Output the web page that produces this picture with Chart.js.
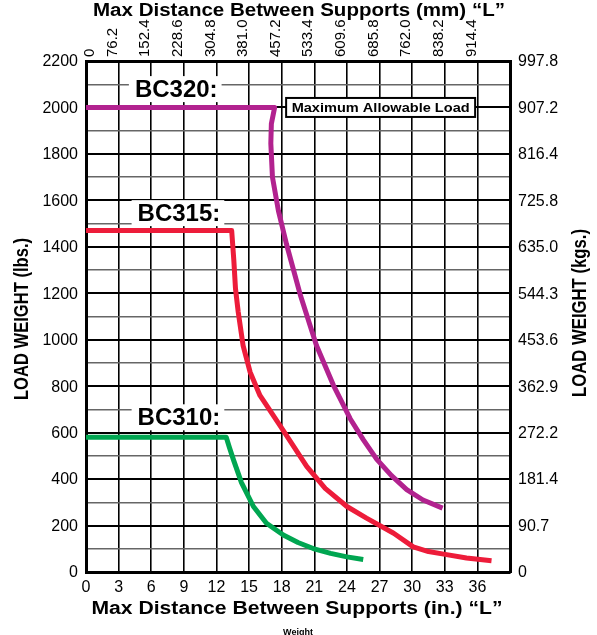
<!DOCTYPE html>
<html>
<head>
<meta charset="utf-8">
<script src="https://cdn.jsdelivr.net/npm/chart.js@4/dist/chart.umd.min.js"></script>
<style>
  html, body { margin: 0; padding: 0; background: #fff; }
  #wrap { width: 597px; height: 635px; position: relative; }
</style>
</head>
<body>
<div id="wrap"><canvas id="chart"></canvas></div>
<script>
// Ejes
const inchTicks = [0, 3, 6, 9, 12, 15, 18, 21, 24, 27, 30, 33, 36];
const mmLabels = ['0', '76.2', '152.4', '228.6', '304.8', '381.0', '457.2', '533.4', '609.6', '685.8', '762.0', '838.2', '914.4'];
const lbsTicks = [0, 200, 400, 600, 800, 1000, 1200, 1400, 1600, 1800, 2000, 2200];
const kgLabels = ['0', '90.7', '181.4', '272.2', '362.9', '453.6', '544.3', '635.0', '725.8', '816.4', '907.2', '997.8'];

// Series (pulgadas / libras)
const bc320X = [0, 17.35, 17.05, 17.0, 17.15, 17.7, 18.45, 19.7, 21.2, 22.75, 24.3, 25.5, 26.75, 28.1, 29.5, 31.0, 32.8];
const bc320Y = [2000, 2000, 1930, 1845, 1700, 1555, 1410, 1195, 975, 805, 660, 570, 485, 415, 355, 310, 275];
const bc315X = [0, 13.4, 13.6, 13.75, 14.0, 14.45, 15.1, 16.0, 17.85, 20.3, 22.0, 24.0, 25.8, 28.3, 30.1, 31.5, 32.9, 35.0, 37.3];
const bc315Y = [1470, 1470, 1340, 1220, 1120, 975, 860, 760, 630, 455, 360, 282, 232, 167, 108, 88, 77, 60, 48];
const bc310X = [0, 12.9, 13.2, 13.55, 14.3, 15.4, 16.6, 18.15, 19.5, 20.9, 22.5, 24.0, 25.5];
const bc310Y = [580, 580, 535, 485, 385, 282, 210, 159, 127, 101, 80, 65, 54];

const labels = [
    { text: 'BC320:', x: 8.3, y: 2079 },
    { text: 'BC315:', x: 8.55, y: 1545 },
    { text: 'BC310:', x: 8.55, y: 666 },
];
const maxLoadLabel = { text: 'Maximum Allowable Load', x: 27.1, y: 2000 };

const COLORS = { bc320: '#B2228F', bc315: '#ED1C3A', bc310: '#00A651' };
const FONT = "'Liberation Sans', Arial, Helvetica, sans-serif";

const toPts = (xs, ys) => xs.map((x, i) => ({ x, y: ys[i] }));

function fitText(ctx, text, cx, cy, rot, len, font) {
    ctx.save();
    ctx.font = font;
    const w = ctx.measureText(text).width;
    ctx.translate(cx, cy);
    ctx.rotate(rot);
    ctx.scale(len / w, 1);
    ctx.textAlign = 'center';
    ctx.textBaseline = 'middle';
    ctx.fillText(text, 0, 0);
    ctx.restore();
}

const textPlugin = {
    id: 'textPlugin',
    afterDatasetsDraw(chart) {
        const { ctx, scales: { x, y } } = chart;
        ctx.save();
        ctx.fillStyle = '#000';

        // BC labels con fondo blanco
        ctx.font = `bold 24px ${FONT}`;
        ctx.textAlign = 'center';
        ctx.textBaseline = 'middle';
        labels.forEach(l => {
            const px = x.getPixelForValue(l.x), py = y.getPixelForValue(l.y);
            const w = ctx.measureText(l.text).width;
            ctx.fillStyle = '#fff';
            ctx.fillRect(px - w / 2 - 6, py - 13, w + 10, 26);
            ctx.fillStyle = '#000';
            ctx.fillText(l.text, px, py + 1);
        });

        // Caja "Maximum Allowable Load"
        {
            const px = x.getPixelForValue(maxLoadLabel.x), py = y.getPixelForValue(maxLoadLabel.y);
            const bw = 189, bh = 19;
            ctx.fillStyle = '#fff';
            ctx.fillRect(px - bw / 2, py - bh / 2, bw, bh);
            ctx.lineWidth = 2;
            ctx.strokeStyle = '#000';
            ctx.strokeRect(px - bw / 2, py - bh / 2, bw, bh);
            ctx.fillStyle = '#000';
            fitText(ctx, maxLoadLabel.text, px, py + 0.5, 0, 178, `bold 13px ${FONT}`);
        }
        ctx.restore();
    },
    afterDraw(chart) {
        const { ctx, scales: { x, y } } = chart;
        const area = chart.chartArea;
        ctx.save();
        ctx.fillStyle = '#000';
        ctx.font = `16px ${FONT}`;

        // Izquierda (lbs)
        ctx.textAlign = 'right';
        ctx.textBaseline = 'middle';
        lbsTicks.forEach(v => ctx.fillText(String(v), area.left - 8, y.getPixelForValue(v) + 1));

        // Derecha (kgs)
        ctx.textAlign = 'left';
        kgLabels.forEach((t, i) => ctx.fillText(t, area.right + 8, y.getPixelForValue(lbsTicks[i]) + 1));

        // Abajo (pulgadas)
        ctx.textAlign = 'center';
        ctx.textBaseline = 'top';
        inchTicks.forEach(v => ctx.fillText(String(v), x.getPixelForValue(v), area.bottom + 8));

        // Arriba (mm), rotado
        ctx.font = `15px ${FONT}`;
        inchTicks.forEach((v, i) => {
            const px = Math.max(x.getPixelForValue(v) - 6, area.left + 4);
            ctx.save();
            ctx.translate(px, area.top - 4);
            ctx.rotate(-Math.PI / 2);
            ctx.textAlign = 'left';
            ctx.textBaseline = 'middle';
            ctx.fillText(mmLabels[i], 0, 0);
            ctx.restore();
        });

        // Títulos
        const tf = `bold 18px ${FONT}`;
        fitText(ctx, 'Max Distance Between Supports (mm) \u201CL\u201D', 299, 11, 0, 412, tf);
        fitText(ctx, 'Max Distance Between Supports (in.) \u201CL\u201D', 297, 609, 0, 411, tf);
        fitText(ctx, 'LOAD WEIGHT (lbs.)', 22, 319, -Math.PI / 2, 162, `bold 21px ${FONT}`);
        fitText(ctx, 'LOAD WEIGHT (kgs.)', 580, 313, -Math.PI / 2, 168, `bold 21px ${FONT}`);

        ctx.font = `bold 9px ${FONT}`;
        ctx.textAlign = 'center';
        ctx.textBaseline = 'top';
        ctx.fillText('Weight', 298, 628);
        ctx.restore();
    },
};

const lineDs = (label, pts, color, width) => ({
    label,
    data: pts,
    borderColor: color,
    backgroundColor: color,
    borderWidth: width,
    pointRadius: 0,
    fill: false,
    tension: 0,
    borderCapStyle: 'butt',
    borderJoinStyle: 'round',
});

new Chart(document.getElementById('chart'), {
    type: 'line',
    data: {
        datasets: [
            lineDs('BC320', toPts(bc320X, bc320Y), COLORS.bc320, 5),
            lineDs('BC315', toPts(bc315X, bc315Y), COLORS.bc315, 5),
            lineDs('BC310', toPts(bc310X, bc310Y), COLORS.bc310, 5),
        ],
    },
    options: {
        responsive: true,
        maintainAspectRatio: false,
        animation: false,
        events: [],
        layout: { padding: { left: 86, top: 61, right: 87, bottom: 63 } },
        plugins: { legend: { display: false }, tooltip: { enabled: false } },
        scales: {
            x: {
                type: 'linear', min: 0, max: 39,
                ticks: { display: false, stepSize: 3 },
                grid: { color: '#000', lineWidth: 1.6, drawTicks: false },
                border: { display: true, color: '#000', width: 3 },
            },
            x2: {
                type: 'linear', position: 'top', min: 0, max: 39,
                ticks: { display: false },
                grid: { display: false, drawTicks: false },
                border: { display: true, color: '#000', width: 3 },
            },
            y: {
                type: 'linear', min: 0, max: 2200,
                ticks: { display: false, stepSize: 100 },
                grid: {
                    drawTicks: false,
                    color: c => (c.tick.value % 200 === 0 ? '#000' : '#666'),
                    lineWidth: c => (c.tick.value % 200 === 0 ? 2 : 1.4),
                },
                border: { display: true, color: '#000', width: 3 },
            },
            y2: {
                type: 'linear', position: 'right', min: 0, max: 2200,
                ticks: { display: false },
                grid: { display: false, drawTicks: false },
                border: { display: true, color: '#000', width: 3 },
            },
        },
    },
    plugins: [textPlugin],
});
</script>
</body>
</html>
